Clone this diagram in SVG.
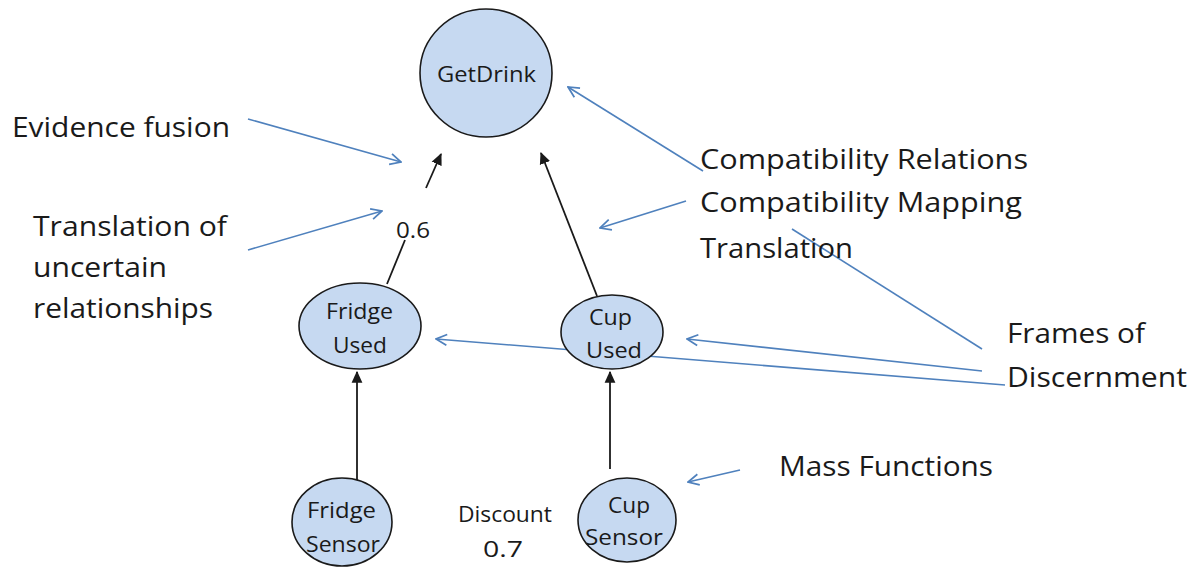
<svg xmlns="http://www.w3.org/2000/svg" width="1197" height="568" viewBox="0 0 1197 568">
  <style>
    .node { fill: #c6d9f1; stroke: #1a1a1a; stroke-width: 1.6; }
    .lbl { font-family: "Open Sans", "Liberation Sans", sans-serif; fill: #1a1a1a; }
    .big { font-size: 27px; }
    .small { font-size: 22px; }
    .mid { text-anchor: middle; }
    .blue { stroke: #4f81bd; stroke-width: 1.6; fill: none; }
    .black { stroke: #1a1a1a; stroke-width: 1.8; fill: none; }
  </style>
  <defs>
    <marker id="openHead" viewBox="0 0 12 12" refX="11" refY="6" markerWidth="13" markerHeight="13" markerUnits="userSpaceOnUse" orient="auto">
      <path d="M1,1 L11,6 L1,11" fill="none" stroke="#4f81bd" stroke-width="1.6"/>
    </marker>
    <marker id="solidHead" viewBox="0 0 10 10" refX="9" refY="5" markerWidth="12" markerHeight="12" markerUnits="userSpaceOnUse" orient="auto">
      <path d="M0,0.5 L10,5 L0,9.5 Z" fill="#1a1a1a"/>
    </marker>
  </defs>

  <!-- connectors -->
  <g id="connectors">
    <!-- evidence flow between nodes -->
    <line class="black" x1="357" y1="480" x2="357" y2="372" marker-end="url(#solidHead)"/>
    <line class="black" x1="610" y1="469" x2="610" y2="372" marker-end="url(#solidHead)"/>
    <line class="black" x1="387" y1="284" x2="405" y2="240"/>
    <line class="black" x1="426" y1="188" x2="441" y2="154" marker-end="url(#solidHead)"/>
    <line class="black" x1="597" y1="296" x2="541" y2="153" marker-end="url(#solidHead)"/>

    <!-- annotation pointers -->
    <line class="blue" x1="248" y1="119" x2="401" y2="162" marker-end="url(#openHead)"/>
    <line class="blue" x1="248" y1="250" x2="382" y2="211" marker-end="url(#openHead)"/>
    <line class="blue" x1="703" y1="171" x2="568" y2="87" marker-end="url(#openHead)"/>
    <line class="blue" x1="686" y1="201" x2="600" y2="228" marker-end="url(#openHead)"/>
    <line class="blue" x1="792" y1="229" x2="982" y2="349"/>
    <line class="blue" x1="982" y1="371" x2="687" y2="339" marker-end="url(#openHead)"/>
    <line class="blue" x1="1005" y1="385" x2="436" y2="339" marker-end="url(#openHead)"/>
    <line class="blue" x1="740" y1="470" x2="688" y2="482" marker-end="url(#openHead)"/>
  </g>

  <!-- nodes -->
  <g id="getdrink">
    <ellipse class="node" cx="486" cy="73" rx="66" ry="64"/>
    <text class="lbl small" x="437" y="82" textLength="99" lengthAdjust="spacingAndGlyphs">GetDrink</text>
  </g>
  <g id="fridge-used">
    <ellipse class="node" cx="360" cy="326" rx="61" ry="43"/>
    <text class="lbl small" x="326" y="319" textLength="67" lengthAdjust="spacingAndGlyphs">Fridge</text>
    <text class="lbl small" x="333" y="353" textLength="54" lengthAdjust="spacingAndGlyphs">Used</text>
  </g>
  <g id="cup-used">
    <ellipse class="node" cx="612" cy="332" rx="51" ry="37"/>
    <text class="lbl small" x="589" y="325" textLength="43" lengthAdjust="spacingAndGlyphs">Cup</text>
    <text class="lbl small" x="586" y="358" textLength="56" lengthAdjust="spacingAndGlyphs">Used</text>
  </g>
  <g id="fridge-sensor">
    <ellipse class="node" cx="342" cy="522" rx="50" ry="44"/>
    <text class="lbl small" x="307" y="518" textLength="69" lengthAdjust="spacingAndGlyphs">Fridge</text>
    <text class="lbl small" x="306" y="552" textLength="74" lengthAdjust="spacingAndGlyphs">Sensor</text>
  </g>
  <g id="cup-sensor">
    <ellipse class="node" cx="627" cy="520" rx="49" ry="42"/>
    <text class="lbl small" x="608" y="513" textLength="42" lengthAdjust="spacingAndGlyphs">Cup</text>
    <text class="lbl small" x="585" y="545" textLength="78" lengthAdjust="spacingAndGlyphs">Sensor</text>
  </g>

  <!-- edge values -->
  <g id="values">
    <text class="lbl" font-size="21" x="396" y="238" textLength="34" lengthAdjust="spacingAndGlyphs">0.6</text>
    <text class="lbl" font-size="21" x="458" y="522" textLength="94" lengthAdjust="spacingAndGlyphs">Discount</text>
    <text class="lbl" font-size="21" x="483" y="557" textLength="40" lengthAdjust="spacingAndGlyphs">0.7</text>
  </g>

  <!-- annotations -->
  <g id="annotations">
    <text class="lbl big" x="12" y="137" textLength="218" lengthAdjust="spacingAndGlyphs">Evidence fusion</text>
    <text class="lbl big" x="33" y="236" textLength="194" lengthAdjust="spacingAndGlyphs">Translation of</text>
    <text class="lbl big" x="33" y="277" textLength="134" lengthAdjust="spacingAndGlyphs">uncertain</text>
    <text class="lbl big" x="33" y="318" textLength="180" lengthAdjust="spacingAndGlyphs">relationships</text>
    <text class="lbl big" x="700" y="169" textLength="328" lengthAdjust="spacingAndGlyphs">Compatibility Relations</text>
    <text class="lbl big" x="700" y="212" textLength="322" lengthAdjust="spacingAndGlyphs">Compatibility Mapping</text>
    <text class="lbl big" x="700" y="258" textLength="153" lengthAdjust="spacingAndGlyphs">Translation</text>
    <text class="lbl big" x="1007" y="343" textLength="138" lengthAdjust="spacingAndGlyphs">Frames of</text>
    <text class="lbl big" x="1007" y="387" textLength="180" lengthAdjust="spacingAndGlyphs">Discernment</text>
    <text class="lbl big" x="779" y="476" textLength="214" lengthAdjust="spacingAndGlyphs">Mass Functions</text>
  </g>
</svg>
